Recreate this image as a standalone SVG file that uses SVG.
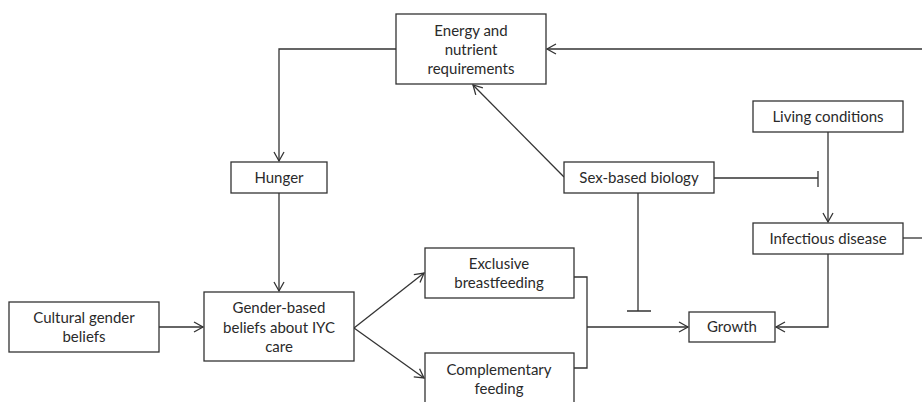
<svg xmlns="http://www.w3.org/2000/svg" width="922" height="402" viewBox="0 0 922 402">
<defs>
<marker id="arr" markerUnits="userSpaceOnUse" markerWidth="12" markerHeight="12" viewBox="0 0 12 12" refX="10" refY="6" orient="auto">
<path d="M1,1 L10,6 L1,11" fill="none" stroke="#333" stroke-width="1.3"/>
</marker>
</defs>
<style>
.box{fill:#fff;stroke:#333;stroke-width:1.3}
.ln{fill:none;stroke:#333;stroke-width:1.3}
text{font-family:Lato,"Open Sans","Liberation Sans",sans-serif;font-size:15px;fill:#2a2a2a;text-anchor:middle}
</style>
<g id="connectors">
<path class="ln" d="M922,49 L547,49" marker-end="url(#arr)"/>
<path class="ln" d="M396,49 L279,49 L279,161" marker-end="url(#arr)"/>
<path class="ln" d="M279,193 L279,291" marker-end="url(#arr)"/>
<path class="ln" d="M564,177 L473,85" marker-end="url(#arr)"/>
<path class="ln" d="M714,178 L818,178 M818,171 L818,187"/>
<path class="ln" d="M828,132 L828,222" marker-end="url(#arr)"/>
<path class="ln" d="M903,238 L922,238"/>
<path class="ln" d="M828,254 L828,327 L776,327" marker-end="url(#arr)"/>
<path class="ln" d="M638,193 L638,311 M627,311 L651,311"/>
<path class="ln" d="M159,327 L203,327" marker-end="url(#arr)"/>
<path class="ln" d="M354,328 L424,273" marker-end="url(#arr)"/>
<path class="ln" d="M354,328 L424,378" marker-end="url(#arr)"/>
<path class="ln" d="M574,277 L587,277 L587,368 L574,368 M587,327 L688,327" marker-end="url(#arr)"/>
</g>
<g id="energy"><rect class="box" x="396" y="14" width="150" height="70"/><text x="471" y="36">Energy and</text><text x="471" y="55">nutrient</text><text x="471" y="74">requirements</text></g>
<g id="living"><rect class="box" x="753" y="101" width="150" height="31"/><text x="828" y="122">Living conditions</text></g>
<g id="sexbio"><rect class="box" x="564" y="162" width="150" height="31"/><text x="639" y="183">Sex-based biology</text></g>
<g id="hunger"><rect class="box" x="231" y="162" width="96" height="31"/><text x="279" y="183">Hunger</text></g>
<g id="infectious"><rect class="box" x="753" y="223" width="150" height="31"/><text x="828" y="244">Infectious disease</text></g>
<g id="cultural"><rect class="box" x="9" y="302" width="150" height="50"/><text x="84" y="323">Cultural gender</text><text x="84" y="342">beliefs</text></g>
<g id="gender"><rect class="box" x="204" y="292" width="150" height="69"/><text x="279" y="313">Gender-based</text><text x="279" y="333">beliefs about IYC</text><text x="279" y="352">care</text></g>
<g id="exclusive"><rect class="box" x="425" y="248" width="149" height="50"/><text x="499" y="269">Exclusive</text><text x="499" y="288">breastfeeding</text></g>
<g id="complementary"><rect class="box" x="425" y="353" width="149" height="60"/><text x="499" y="375">Complementary</text><text x="499" y="394">feeding</text></g>
<g id="growth"><rect class="box" x="689" y="312" width="86" height="30"/><text x="732" y="332">Growth</text></g>
</svg>
